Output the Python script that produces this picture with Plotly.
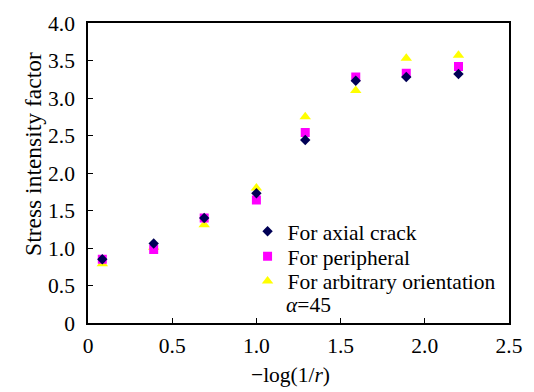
import plotly.graph_objects as go

x_vals = [0.085, 0.39, 0.69, 1.0, 1.29, 1.59, 1.89, 2.2]
axial = [0.85, 1.06, 1.40, 1.73, 2.44, 3.23, 3.28, 3.32]
peripheral = [0.85, 0.98, 1.40, 1.64, 2.54, 3.28, 3.33, 3.42]
arbitrary = [0.79, 1.01, 1.31, 1.80, 2.75, 3.10, 3.53, 3.57]

x_ticks = [0, 0.5, 1.0, 1.5, 2.0, 2.5]
x_tick_labels = ["0", "0.5", "1.0", "1.5", "2.0", "2.5"]
y_ticks = [0, 0.5, 1.0, 1.5, 2.0, 2.5, 3.0, 3.5, 4.0]
y_tick_labels = ["0", "0.5", "1.0", "1.5", "2.0", "2.5", "3.0", "3.5", "4.0"]

family = "Liberation Serif"
fs = 21.5
tfont = dict(family=family, size=fs, color="black")

fig = go.Figure()
fig.add_trace(go.Scatter(x=x_vals, y=arbitrary, mode="markers", name="For arbitrary orientation",
                         legend="legend3",
                         marker=dict(symbol="triangle-up", size=10, color="#FFFF00")))
fig.add_trace(go.Scatter(x=x_vals, y=peripheral, mode="markers", name="For peripheral",
                         legend="legend2",
                         marker=dict(symbol="square", size=9, color="#FF00FF")))
fig.add_trace(go.Scatter(x=x_vals, y=axial, mode="markers", name="For axial crack",
                         legend="legend",
                         marker=dict(symbol="diamond", size=8, color="#000055")))

leg_common = dict(xanchor="left", yanchor="middle", bgcolor="rgba(0,0,0,0)",
                  font=tfont, itemwidth=30)

def py(px):
    return 1 - (px - 19) / 304

fig.update_layout(
    width=534, height=392,
    margin=dict(l=88, r=20, t=19, b=69),
    paper_bgcolor="white", plot_bgcolor="white",
    font=tfont,
    legend=dict(x=0.379, y=py(230), **leg_common),
    legend2=dict(x=0.379, y=py(255.5), **leg_common),
    legend3=dict(x=0.379, y=py(280.5), **leg_common),
    showlegend=True,
    annotations=[
        dict(text="<i>α</i>=45", xref="paper", yref="paper", x=0.469, y=py(305),
             xanchor="left", yanchor="middle", showarrow=False, font=tfont, borderpad=0),
        dict(text="\u2212log(1/<i>r</i>)", xref="paper", yref="paper", x=(293 - 88) / 426,
             y=py(376), xanchor="center", yanchor="middle", showarrow=False, font=tfont),
        dict(text="Stress intensity factor", xref="paper", yref="paper", x=-(88 - 33) / 426,
             y=py(152), xanchor="center", yanchor="middle", showarrow=False,
             textangle=-90, font=dict(family=family, size=23.5, color="black")),
    ],
)
fig.update_xaxes(range=[0, 2.5], tickvals=x_ticks, ticktext=x_tick_labels, tickfont=tfont,
                 ticks="inside", ticklen=5, tickcolor="black", showline=True, linecolor="black",
                 linewidth=1.5, mirror=True, showgrid=False, zeroline=False, ticklabelstandoff=2)
fig.update_yaxes(range=[0, 4.0], tickvals=y_ticks, ticktext=y_tick_labels, tickfont=tfont,
                 ticks="inside", ticklen=5, tickcolor="black", showline=True, linecolor="black",
                 linewidth=1.5, mirror=True, showgrid=False, zeroline=False, ticklabelstandoff=7)

fig.write_html("out.html", config={"displayModeBar": False},
               post_script="document.body.style.margin='0';")
